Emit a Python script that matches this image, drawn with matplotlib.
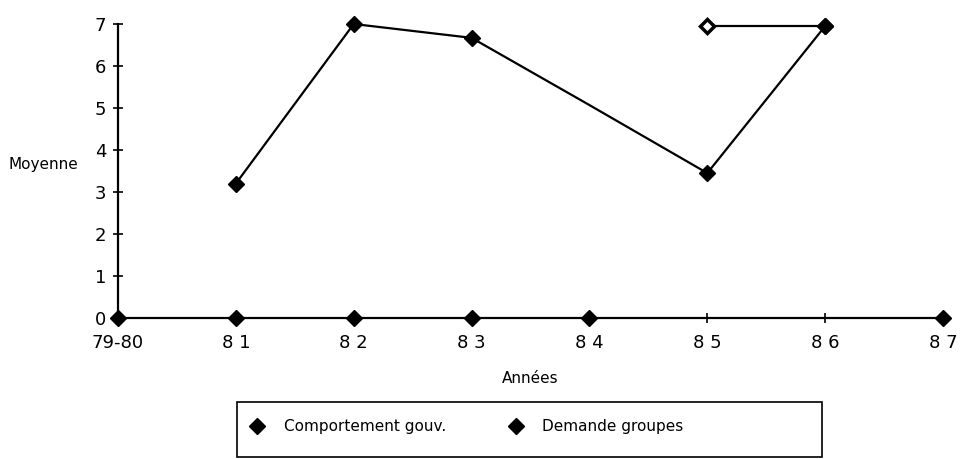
import numpy as np
import matplotlib.pyplot as plt
from matplotlib.lines import Line2D
from matplotlib.patches import Rectangle

# données
annees = ['79-80', '8 1', '8 2', '8 3', '8 4', '8 5', '8 6', '8 7']
comportement = [np.nan, 3.2, 7.0, 6.67, 5.07, 3.45, 6.95, np.nan]
demande_zero = [0, 0, 0, 0, 0, np.nan, np.nan, 0]
demande_haut = [np.nan, np.nan, np.nan, np.nan, np.nan, 6.95, 6.95, np.nan]

x = np.arange(len(annees))

fig = plt.figure(figsize=(9.62, 4.59), dpi=100)
ax = fig.add_axes([118 / 962, 1 - 318 / 459, (943 - 118) / 962, (318 - 24) / 459])

# série "Comportement gouv." (pas de marqueur en 84)
ax.plot(x, comportement, color='black', lw=1.6, marker='D', ms=8,
        markevery=[1, 2, 3, 5, 6], clip_on=False, zorder=3)
# série "Demande groupes"
ax.plot(x, demande_zero, color='black', lw=1.6, marker='D', ms=8,
        linestyle='none', clip_on=False, zorder=3)
ax.plot(x, demande_haut, color='black', lw=1.6, clip_on=False, zorder=3)
ax.plot(x[5], demande_haut[5], marker='D', ms=7, mfc='white', mec='black',
        mew=2.5, clip_on=False, zorder=4)
ax.plot(x[6], demande_haut[6], marker='D', ms=8, color='black',
        clip_on=False, zorder=4)

ax.set_xlim(0, 7)
ax.set_ylim(0, 7)
ax.set_xticks(x)
ax.set_yticks(range(8))
ax.tick_params(axis='both', direction='inout', length=7, width=1.2,
               labelsize=13)
ax.tick_params(axis='x', pad=8)
ax.tick_params(axis='y', pad=5)
ax.set_xticklabels(annees, fontsize=13)
for s in ['top', 'right']:
    ax.spines[s].set_visible(False)
for s in ['left', 'bottom']:
    ax.spines[s].set_linewidth(1.6)

ax.set_xlabel('Années', fontsize=11, labelpad=14)
fig.text(9 / 962, 1 - 165 / 459, 'Moyenne', fontsize=11, va='center', ha='left')

# légende
fig.patches.append(Rectangle((237 / 962, 2 / 459), 585 / 962, 55 / 459,
                             transform=fig.transFigure, fill=False,
                             edgecolor='black', lw=1.2))
h1 = Line2D([], [], color='black', marker='D', ms=8, linestyle='none')
h2 = Line2D([], [], color='black', marker='D', ms=8, linestyle='none')
fig.legend([h1, h2], ['Comportement gouv.', 'Demande groupes'],
           loc='center left', bbox_to_anchor=(232 / 962, 1 - 427 / 459),
           ncol=2, frameon=False, fontsize=11, columnspacing=3.8,
           handletextpad=1.0, handlelength=1.5)

fig.savefig('out.png', dpi=100)
